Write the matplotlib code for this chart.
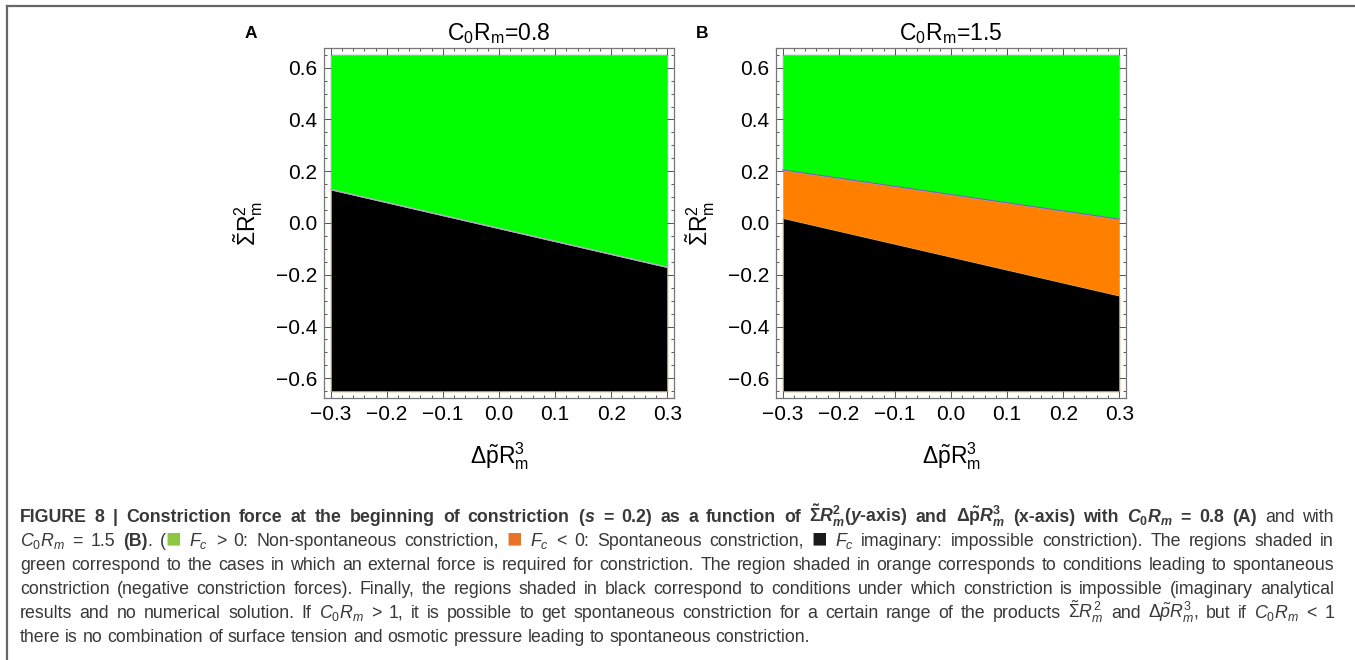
import matplotlib
matplotlib.use("Agg")
import matplotlib.pyplot as plt
from matplotlib.lines import Line2D
from matplotlib.ticker import MultipleLocator, FuncFormatter

plt.rcParams['font.family'] = ['Liberation Sans', 'DejaVu Sans']
plt.rcParams['mathtext.fontset'] = 'custom'
plt.rcParams['mathtext.rm'] = 'Liberation Sans'
plt.rcParams['mathtext.it'] = 'Liberation Sans:italic'
plt.rcParams['mathtext.bf'] = 'Liberation Sans:bold'
plt.rcParams['mathtext.bfit'] = 'Liberation Sans:italic:bold'
plt.rcParams['mathtext.sf'] = 'Liberation Sans'

# data: region boundaries (value of Sigma*Rm^2 at the two ends of the x range)
dp_range = [-0.3, 0.3]
sigma_range = [-0.65, 0.65]
panel_letters = ["A", "B"]
panel_titles = [r"$\mathregular{C_0R_m}$=0.8", r"$\mathregular{C_0R_m}$=1.5"]
black_top = [[0.13, -0.17], [0.02, -0.28]]     # upper edge of the black (imaginary) region
green_bottom = [[0.13, -0.17], [0.205, 0.015]]  # lower edge of the green (F_c > 0) region
x_ticks = [-0.3, -0.2, -0.1, 0.0, 0.1, 0.2, 0.3]
y_ticks = [-0.6, -0.4, -0.2, 0.0, 0.2, 0.4, 0.6]

W, H = 1355, 660
fig = plt.figure(figsize=(W / 100, H / 100), dpi=100)


def px_box(x0, y0, x1, y1):
    return [x0 / W, 1 - y1 / H, (x1 - x0) / W, (y1 - y0) / H]


fmt = FuncFormatter(lambda v, p: ("%.1f" % v).replace("-", "\u2212"))
frames = [(324, 48, 674, 398), (776, 48, 1126, 398)]

for i in range(2):
    ax = fig.add_axes(px_box(*frames[i]))
    ax.fill_between(dp_range, sigma_range[0], black_top[i], color="#000000",
                    edgecolor="#c8b070", lw=0.8)
    ax.fill_between(dp_range, black_top[i], green_bottom[i], color="#ff7f00", lw=0)
    ax.fill_between(dp_range, green_bottom[i], sigma_range[1], color="#00ff00",
                    edgecolor="#a8a8d0", lw=0.8)
    if i == 0:
        ax.plot(dp_range, green_bottom[i], color="#b0b0c0", lw=0.8)
    else:
        ax.plot(dp_range, green_bottom[i], color="#8060a0", lw=0.8)

    ax.set_xlim(-0.312, 0.312)
    ax.set_ylim(-0.676, 0.676)
    ax.set_xticks(x_ticks)
    ax.set_yticks(y_ticks)
    ax.xaxis.set_minor_locator(MultipleLocator(0.02))
    ax.yaxis.set_minor_locator(MultipleLocator(0.05))
    ax.xaxis.set_major_formatter(fmt)
    ax.yaxis.set_major_formatter(fmt)
    ax.tick_params(which="both", direction="in", top=True, right=True,
                   color="#555555", width=0.7, labelsize=15, pad=5)
    ax.tick_params(which="major", length=5)
    ax.tick_params(which="minor", length=2.5)
    for s in ax.spines.values():
        s.set_color("#777777")
        s.set_linewidth(0.9)

    ax.set_title(panel_titles[i], fontsize=16.5, pad=6)
    ax.set_xlabel(r"$\mathregular{\Delta\tilde{p}R_m^3}$", fontsize=16.5, va="center")
    ax.xaxis.set_label_coords(0.5, -0.165)
    ax.set_ylabel(r"$\tilde{\Sigma}\mathregular{R_m^2}$", fontsize=16.5, va="center")
    ax.yaxis.set_label_coords(-0.215, 0.5)
    ax.text(-0.21, 1.04, panel_letters[i], transform=ax.transAxes, fontsize=12.5,
            fontweight="bold", ha="center", va="center")

# figure border (top and left)
fig.add_artist(Line2D([7.5 / W, 1], [1 - 6 / H, 1 - 6 / H], color="#666666", lw=1.6))
fig.add_artist(Line2D([7.5 / W, 7.5 / W], [1 - 6 / H, 0], color="#666666", lw=1.6))

# caption
CAP = "#383838"
CS = 12.8
B = dict(fontweight="bold")
N = dict()
GREEN_SQ = dict(color="#8dc63f", fontsize=CS * 1.45)
ORANGE_SQ = dict(color="#e8742a", fontsize=CS * 1.45)
BLACK_SQ = dict(color="#1a1a1a", fontsize=CS * 1.45)

caption_lines = [
    [("FIGURE 8 | Constriction force at the beginning of constriction (", B),
     (r"$\mathbfit{s}$ = 0.2) as a function of ", B),
     (r"$\mathbf{\tilde{\Sigma}}\mathbfit{R}_{\mathbfit{m}}^{\mathbf{2}}$($\mathbfit{y}$-axis) and ", B),
     (r"$\mathbf{\Delta\tilde{p}}\mathbfit{R}_{\mathbfit{m}}^{\mathbf{3}}$ (x-axis) with ", B),
     (r"$\mathbfit{C}_{\mathbf{0}}\mathbfit{R}_{\mathbfit{m}}$ = 0.8 (A)", B),
     (" and with", N)],
    [(r"$C_0R_m$ = 1.5 ", N), ("(B)", B), (". (", N), ("\u25a0", GREEN_SQ),
     (r" $F_c$ > 0: Non-spontaneous constriction, ", N), ("\u25a0", ORANGE_SQ),
     (r" $F_c$ < 0: Spontaneous constriction, ", N), ("\u25a0", BLACK_SQ),
     (r" $F_c$ imaginary: impossible constriction). The regions shaded in", N)],
    [("green correspond to the cases in which an external force is required for "
      "constriction. The region shaded in orange corresponds to conditions leading to spontaneous", N)],
    [("constriction (negative constriction forces). Finally, the regions shaded in black "
      "correspond to conditions under which constriction is impossible (imaginary analytical", N)],
    [(r"results and no numerical solution. If $C_0R_m$ > 1, it is possible to get spontaneous "
      r"constriction for a certain range of the products $\tilde{\Sigma}R_m^2$ and "
      r"$\Delta\tilde{p}R_m^3$, but if $C_0R_m$ < 1", N)],
    [("there is no combination of surface tension and osmotic pressure leading to "
      "spontaneous constriction.", N)],
]
baselines = [522, 546, 570, 594, 618, 642]
x_left, x_right = 20, 1334

renderer = fig.canvas.get_renderer()


def width_of(t):
    return t.get_window_extent(renderer).width


def space_width(kw):
    a = fig.text(0, 0, "a a", fontsize=CS, **kw)
    b = fig.text(0, 0, "aa", fontsize=CS, **kw)
    w = width_of(a) - width_of(b)
    a.remove()
    b.remove()
    return w


sp_norm = space_width(N)
sp_bold = space_width(B)

for li, segs in enumerate(caption_lines):
    words = []
    pending = False
    for s, kw in segs:
        for j, p in enumerate(s.split(" ")):
            if j > 0:
                pending = True
            if p:
                words.append([p, kw, pending and len(words) > 0])
                pending = False
    texts = []
    for p, kw, g in words:
        kw2 = dict(color=CAP, fontsize=CS)
        kw2.update(kw)
        t = fig.text(0, 1 - baselines[li] / H, p, va="baseline", ha="left", **kw2)
        texts.append((t, g, kw))
    widths = [width_of(t) for t, g, kw in texts]
    gaps = [(sp_bold if kw is B else sp_norm) if g else 0 for t, g, kw in texts]
    natural = sum(widths) + sum(gaps)
    n_gaps = sum(1 for t, g, kw in texts if g)
    extra = 0
    if li < len(caption_lines) - 1 and n_gaps:
        extra = (x_right - x_left - natural) / n_gaps
    x = x_left
    for (t, g, kw), w, gp in zip(texts, widths, gaps):
        if g:
            x += gp + extra
        t.set_x(x / W)
        x += w

fig.savefig("out.png", dpi=100)
